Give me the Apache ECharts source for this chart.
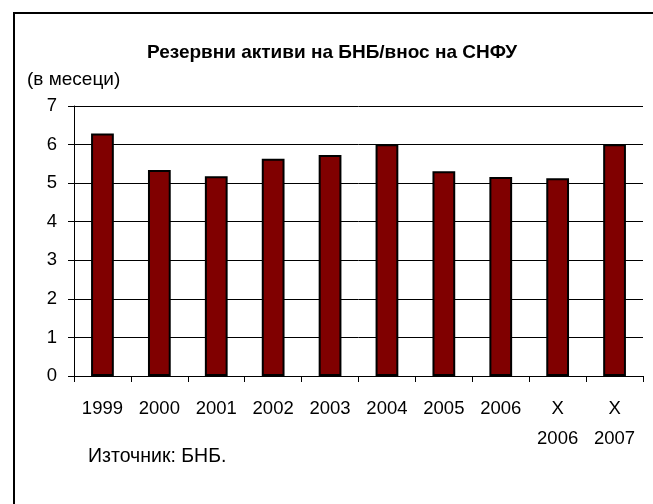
<!DOCTYPE html>
<html>
<head>
<meta charset="utf-8">
<script src="https://cdn.jsdelivr.net/npm/echarts@6/dist/echarts.min.js"></script>
<style>
  html, body { margin: 0; padding: 0; background: #fff; }
  #chart { width: 653px; height: 504px; }
</style>
</head>
<body>
<div id="chart"></div>
<script>
// данни
const categories = ['1999', '2000', '2001', '2002', '2003', '2004', '2005', '2006', 'X\n2006', 'X\n2007'];
const months = [6.29, 5.34, 5.18, 5.63, 5.73, 6.01, 5.31, 5.16, 5.13, 6.01];
const yTicks = [0, 1, 2, 3, 4, 5, 6, 7];

const font = 'Arial, "Liberation Sans", sans-serif';
var myChart = echarts.init(document.getElementById('chart'), null, { renderer: 'canvas' });

var option = {
  animation: false,
  backgroundColor: '#fff',
  title: {
    text: 'Резервни активи на БНБ/внос на СНФУ',
    left: 327,
    top: 38,
    textAlign: 'center',
    textStyle: { fontFamily: font, fontSize: 19, fontWeight: 'bold', color: '#000' }
  },
  graphic: [
    // рамка (горе и вляво)
    {
      type: 'polyline',
      shape: { points: [[14, 520], [14, 13], [670, 13]] },
      style: { stroke: '#000', lineWidth: 2, fill: null }
    },
    {
      type: 'text',
      left: 27,
      top: 70,
      style: { text: '(в месеци)', font: '19px ' + font, fill: '#000' }
    },
    {
      type: 'text',
      left: 88,
      top: 447,
      style: { text: 'Източник: БНБ.', font: '19.5px ' + font, fill: '#000' }
    }
  ],
  grid: { left: 74, right: 10, top: 106, bottom: 128 },
  xAxis: {
    type: 'category',
    data: categories,
    axisLine: { lineStyle: { color: '#000', width: 1 } },
    axisTick: { show: true, length: 6, lineStyle: { color: '#000' } },
    axisLabel: { color: '#000', fontFamily: font, fontSize: 18.5, margin: 18, lineHeight: 30, interval: 0 }
  },
  yAxis: {
    type: 'value',
    min: yTicks[0],
    max: yTicks[yTicks.length - 1],
    interval: 1,
    axisLine: { show: true, lineStyle: { color: '#000', width: 1 } },
    axisTick: { show: true, length: 6, lineStyle: { color: '#000' } },
    axisLabel: { color: '#000', fontFamily: font, fontSize: 18.5, margin: 17 },
    splitLine: { show: true, lineStyle: { color: '#000', width: 1 } }
  },
  series: [{
    type: 'bar',
    data: months,
    barWidth: '40%',
    itemStyle: { color: '#800000', borderColor: '#000', borderWidth: 2 }
  }]
};
myChart.setOption(option);
</script>
</body>
</html>
